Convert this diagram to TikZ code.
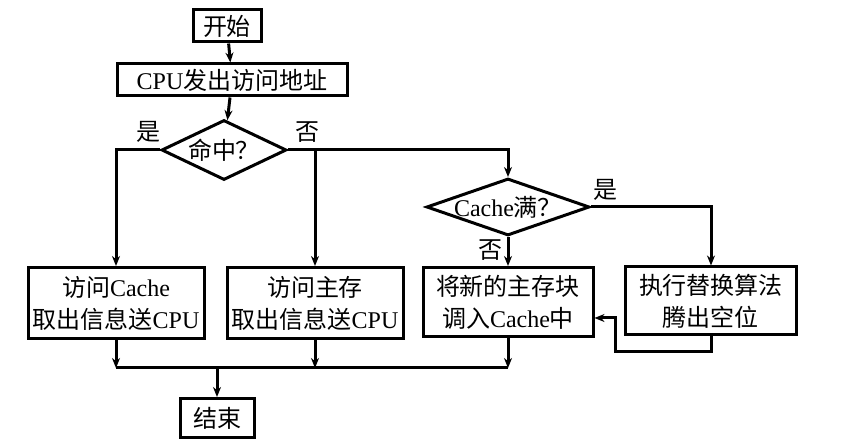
\documentclass[tikz,border=0pt]{standalone}
\usepackage{fontspec}
\setmainfont{Liberation Serif}
\newfontfamily\cjk{Noto Sans CJK SC}
\usetikzlibrary{positioning,shapes.geometric,arrows.meta}

\begin{document}
\begin{tikzpicture}[x=0.5pt, y=-0.5pt, font=\fontsize{12}{16}\selectfont,
		b/.style={draw, line width=1.5pt, align=center, inner sep=0pt},
		d/.style={diamond, draw, line width=1.5pt, inner sep=0pt, label=center:{#1}},
		l/.style={line width=1.5pt, -{Stealth[length=5pt, width=4pt]}},
		t/.style={line width=1.5pt}]
		\useasboundingbox (0,0) rectangle (843,448);

		\node[b, minimum width=34pt, minimum height=16pt] (s) at (227,26) {\cjk 开始};
		\node[b, minimum width=115pt, minimum height=16pt] (cpu) at (232,80) {CPU{\cjk 发出访问地址}};
		\node[d={\cjk 命中？}, minimum width=62.5pt, minimum height=30pt] (hit) at (224,150) {};
		\node[b, minimum width=88pt, minimum height=35.5pt] (acc) at (116,303) {{\cjk 访问}Cache\\{\cjk 取出信息送}CPU};
		\node[b, minimum width=88pt, minimum height=35.5pt] (mem) at (315,303) {\cjk 访问主存\\{\cjk 取出信息送}CPU};
		\node[d={Cache{\cjk 满？}}, minimum width=81.5pt, minimum height=28.5pt] (full) at (508,207) {};
		\node[b, minimum width=85pt, minimum height=34.5pt] (load) at (508,302) {\cjk 将新的主存块\\{\cjk 调入}Cache{\cjk 中}};
		\node[b, minimum width=85.5pt, minimum height=34pt] (repl) at (711,301) {\cjk 执行替换算法\\{\cjk 腾出空位}};
		\node[b, minimum width=37pt, minimum height=19.5pt] (e) at (217,418) {\cjk 结束};

		\coordinate (back) at (615,352);
		\coordinate (join) at (217,368);

		\path[l] (s) edge (cpu);
		\path[l] (cpu) edge (hit);
		\draw[l] (hit.west) -| (acc.north);
		\draw[l] (hit.east) -| (mem.north);
		\draw[l] (hit.east) -| (full.north);
		\draw[l] (full.east) -| (repl.north);
		\path[l] (full) edge (load);
		\draw[l] (repl.south) |- (back) |- ([yshift=-8pt]load.east);

		\path[l] (acc.south) edge (acc.south|-join);
		\path[l] (mem.south) edge (mem.south|-join);
		\path[l] (load.south) edge (load.south|-join);
		\draw[t] (acc.south|-join) -- (load.south|-join);
		\path[l] (join) edge (e);

		\node at (148,132) {\cjk 是};
		\node at (307,132) {\cjk 否};
		\node at (490,250) {\cjk 否};
		\node at (605,190) {\cjk 是};
	\end{tikzpicture}
\end{document}
